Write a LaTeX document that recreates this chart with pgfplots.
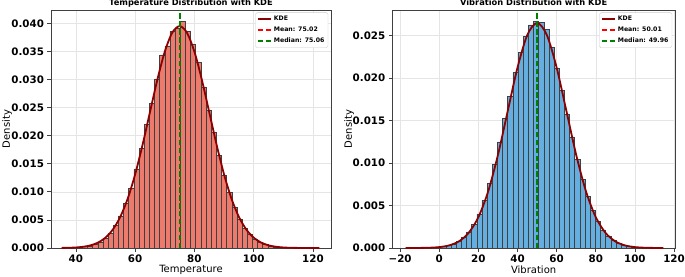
\documentclass[border=0pt]{standalone}
\usepackage{pgfplots}
\pgfplotsset{compat=1.18}
\usepackage{fontspec}
\setmainfont{DejaVu Sans}
\definecolor{tempbar}{HTML}{EC7B6E}
\definecolor{vibbar}{HTML}{65AEE0}
\definecolor{kdecol}{HTML}{8B0000}
\definecolor{medgreen}{HTML}{008000}
\definecolor{meanred}{HTML}{FF0000}
\pgfplotsset{
  mystyle/.style={
    scale only axis,
    height=238pt,
    ymin=0,
    scaled y ticks=false,
    scaled x ticks=false,
    axis line style={black!75, line width=0.7pt},
    tick style={black!75, line width=0.7pt},
    tick align=outside,
    major tick length=3.5pt,
    tick pos=left,
    grid=major,
    grid style={black!10, line width=0.5pt},
    tick label style={font=\bfseries\fontsize{10.3}{12}\selectfont},
    label style={font=\fontsize{10}{12}\selectfont},
    every axis title/.style={font=\bfseries\fontsize{8.3}{10}\selectfont, at={(axis description cs:0.5,1)}, anchor=base, yshift=4pt},
    legend cell align=left,
    legend style={at={(rel axis cs:0.99,0.99)}, anchor=north east, draw=black!20, rounded corners=1.5pt,
      font=\bfseries\fontsize{6.2}{7}\selectfont, inner sep=1.6pt, row sep=0.8pt, fill=white},
    legend image code/.code={\draw[#1] (0pt,0pt) -- (13pt,0pt);},
  }
}
\begin{document}
\begin{tikzpicture}
\path[use as bounding box] (0pt,0pt) rectangle (685pt,276pt);
% ---------------- Temperature ----------------
\begin{axis}[mystyle,
  at={(51pt,28pt)}, anchor=south west,
  width=280pt,
  xmin=31.6, xmax=126.1, ymax=0.04237,
  xtick={40,60,80,100,120},
  xticklabels={40,60,80,100,120},
  ytick={0,0.005,0.010,0.015,0.020,0.025,0.030,0.035,0.040},
  yticklabels={0.000,0.005,0.010,0.015,0.020,0.025,0.030,0.035,0.040},
  title={Temperature Distribution with KDE},
  xlabel={Temperature}, ylabel={Density},
  xlabel style={at={(axis description cs:0.5,-0.093)}, anchor=center},
  ylabel style={at={(axis description cs:-0.157,0.5)}, anchor=center},
]
\addplot[ybar interval, fill=tempbar, draw=black!75, line width=0.5pt, forget plot] coordinates {
(35.20,0.00002) (36.94,0.00004) (38.68,0.00007) (40.42,0.00014) (42.16,0.00025)
(43.90,0.00040) (45.64,0.00071) (47.38,0.00110) (49.12,0.00178) (50.86,0.00262)
(52.60,0.00400) (54.34,0.00570) (56.08,0.00790) (57.82,0.01060) (59.56,0.01410)
(61.30,0.01780) (63.04,0.02200) (64.78,0.02580) (66.52,0.03010) (68.26,0.03440)
(70.00,0.03600) (71.74,0.03860) (73.48,0.03920) (75.22,0.04040) (76.96,0.03860)
(78.70,0.03620) (80.44,0.03300) (82.18,0.02870) (83.92,0.02450) (85.66,0.02060)
(87.40,0.01650) (89.14,0.01290) (90.88,0.00990) (92.62,0.00720) (94.36,0.00520)
(96.10,0.00355) (97.84,0.00240) (99.58,0.00155) (101.32,0.00099) (103.06,0.00060)
(104.80,0.00036) (106.54,0.00021) (108.28,0.00012) (110.02,0.00006) (111.76,0.00003)
(113.50,0.000017) (115.24,0.000008) (116.98,0.000004) (118.72,0.000002) (120.46,0.000001)
(122.20,0)
};
\addplot[kdecol, line width=1.8pt, smooth] coordinates {
(35.2,0.0000168) (37.5,0.00004) (40,0.0000975) (42.5,0.000223) (45,0.000479)
(47.5,0.00097) (50,0.001845) (52.5,0.003303) (55,0.00556) (57.5,0.008805)
(60,0.01311) (62.5,0.01836) (65,0.02419) (67.5,0.02998) (70,0.03495)
(72.5,0.03831) (75,0.0395) (77.5,0.03831) (80,0.03495) (82.5,0.02998)
(85,0.02419) (87.5,0.01836) (90,0.01311) (92.5,0.008805) (95,0.00556)
(97.5,0.003303) (100,0.001845) (102.5,0.00097) (105,0.000479) (107.5,0.000223)
(110,0.0000975) (112.5,0.00004) (115,0.0000155) (117.5,0.0000056) (120,0.0000019) (122.2,0.0000007)
};
\addlegendentry{KDE}
\addplot[meanred, line width=1.5pt, dash pattern=on 5.5pt off 2.4pt] coordinates {(75.02,0) (75.02,0.0423)};
\addlegendentry{Mean: 75.02}
\addplot[medgreen, line width=1.5pt, dash pattern=on 5.5pt off 2.4pt] coordinates {(75.06,0) (75.06,0.0423)};
\addlegendentry{Median: 75.06}
\end{axis}
% ---------------- Vibration ----------------
\begin{axis}[mystyle,
  at={(392.3pt,28pt)}, anchor=south west,
  width=282.7pt,
  xmin=-24, xmax=120.5, ymax=0.02803,
  xtick={-20,0,20,40,60,80,100,120},
  xticklabels={−20,0,20,40,60,80,100,120},
  ytick={0,0.005,0.010,0.015,0.020,0.025},
  yticklabels={0.000,0.005,0.010,0.015,0.020,0.025},
  title={Vibration Distribution with KDE},
  xlabel={Vibration}, ylabel={Density},
  xlabel style={at={(axis description cs:0.5,-0.093)}, anchor=center},
  ylabel style={at={(axis description cs:-0.153,0.5)}, anchor=center},
]
\addplot[ybar interval, fill=vibbar, draw=black!75, line width=0.5pt, forget plot] coordinates {
(-17.700,0.0000015) (-15.066,0.0000032) (-12.432,0.0000066) (-9.798,0.000013) (-7.164,0.000027)
(-4.530,0.000051) (-1.896,0.000095) (0.738,0.00017) (3.372,0.00029) (6.006,0.00049)
(8.640,0.00079) (11.274,0.00126) (13.908,0.00190) (16.542,0.00282) (19.176,0.00403)
(21.810,0.00565) (24.444,0.00760) (27.078,0.00985) (29.712,0.01250) (32.346,0.01530)
(34.980,0.01785) (37.614,0.02066) (40.248,0.02300) (42.882,0.02490) (45.516,0.02627)
(48.150,0.02666) (50.784,0.02654) (53.418,0.02576) (56.052,0.02360) (58.686,0.02120)
(61.320,0.01860) (63.954,0.01580) (66.588,0.01310) (69.222,0.01045) (71.856,0.00810)
(74.490,0.00605) (77.124,0.00440) (79.758,0.00312) (82.392,0.00213) (85.026,0.00141)
(87.660,0.00091) (90.294,0.00057) (92.928,0.00034) (95.562,0.00020) (98.196,0.000114)
(100.830,0.000063) (103.464,0.000034) (106.098,0.0000175) (108.732,0.0000088) (111.366,0.0000043)
(114.000,0)
};
\addplot[kdecol, line width=1.8pt, smooth] coordinates {
(-17.2,0.00000124) (-15,0.0000024) (-10,0.0000094) (-5,0.0000334) (0,0.0001063)
(5,0.000303) (10,0.000775) (15,0.001774) (20,0.003633) (25,0.00667)
(30,0.01096) (35,0.01613) (40,0.02125) (45,0.02508) (50,0.0265)
(55,0.02508) (60,0.02125) (65,0.01613) (70,0.01096) (75,0.00667)
(80,0.003633) (85,0.001774) (90,0.000775) (95,0.000303) (100,0.0001063)
(105,0.0000334) (110,0.0000094) (114.5,0.0000027)
};
\addlegendentry{KDE}
\addplot[meanred, line width=1.5pt, dash pattern=on 5.5pt off 2.4pt] coordinates {(50.01,0) (50.01,0.0280)};
\addlegendentry{Mean: 50.01}
\addplot[medgreen, line width=1.5pt, dash pattern=on 5.5pt off 2.4pt] coordinates {(49.96,0) (49.96,0.0280)};
\addlegendentry{Median: 49.96}
\end{axis}
\end{tikzpicture}
\end{document}
